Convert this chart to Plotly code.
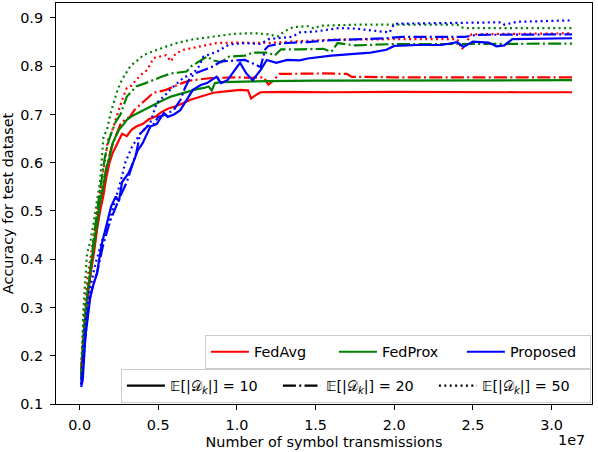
import plotly.graph_objects as go

# x values are in units of 1e7 symbol transmissions
fedavg_10_x = [0.01, 0.02, 0.03, 0.05, 0.07, 0.09, 0.11, 0.13, 0.15, 0.17, 0.19, 0.21, 0.24, 0.27, 0.3, 0.33,
               0.36, 0.4, 0.44, 0.48, 0.52, 0.56, 0.6, 0.65, 0.7, 0.75, 0.8, 0.85, 0.9, 0.96, 1.02, 1.07, 1.09,
               1.11, 1.15, 1.3, 1.6, 2.0, 2.4, 2.8, 3.13]
fedavg_10_y = [0.16, 0.2, 0.25, 0.32, 0.37, 0.41, 0.46, 0.5, 0.53, 0.57, 0.6, 0.62, 0.64, 0.66, 0.655, 0.668,
               0.675, 0.68, 0.69, 0.695, 0.705, 0.712, 0.716, 0.722, 0.73, 0.735, 0.74, 0.745, 0.747, 0.749, 0.751,
               0.75, 0.733, 0.738, 0.746, 0.747, 0.746, 0.747, 0.746, 0.746, 0.746]

fedavg_20_x = [0.01, 0.02, 0.04, 0.06, 0.08, 0.1, 0.12, 0.14, 0.16, 0.18, 0.2, 0.23, 0.26, 0.29, 0.32, 0.35,
               0.39, 0.43, 0.47, 0.51, 0.55, 0.6, 0.65, 0.7, 0.76, 0.82, 0.9, 1.0, 1.1, 1.17, 1.2, 1.23, 1.27,
               1.4, 1.55, 1.7, 1.73, 2.0, 2.5, 3.13]
fedavg_20_y = [0.17, 0.22, 0.29, 0.35, 0.4, 0.44, 0.49, 0.53, 0.57, 0.6, 0.63, 0.655, 0.68, 0.69, 0.695, 0.71,
               0.722, 0.732, 0.745, 0.748, 0.751, 0.758, 0.765, 0.77, 0.772, 0.775, 0.776, 0.777, 0.776, 0.777,
               0.762, 0.77, 0.784, 0.785, 0.785, 0.784, 0.778, 0.777, 0.777, 0.777]

fedavg_50_x = [0.01, 0.02, 0.03, 0.05, 0.07, 0.09, 0.11, 0.13, 0.15, 0.18, 0.2, 0.23, 0.27, 0.3, 0.33, 0.36,
               0.4, 0.43, 0.47, 0.51, 0.55, 0.58, 0.61, 0.66, 0.72, 0.77, 0.87, 1.0, 1.2, 1.4, 1.6, 2.0, 2.4,
               2.43, 2.46, 2.49, 2.7, 3.13]
fedavg_50_y = [0.18, 0.24, 0.29, 0.36, 0.405, 0.45, 0.49, 0.54, 0.578, 0.647, 0.66, 0.69, 0.73, 0.755, 0.76,
               0.772, 0.785, 0.792, 0.817, 0.82, 0.823, 0.81, 0.826, 0.834, 0.838, 0.841, 0.848, 0.849, 0.848,
               0.852, 0.855, 0.856, 0.856, 0.835, 0.85, 0.866, 0.867, 0.868]

fedprox_10_x = [0.01, 0.02, 0.03, 0.05, 0.07, 0.09, 0.11, 0.13, 0.15, 0.17, 0.19, 0.21, 0.23, 0.25, 0.28, 0.3,
                0.34, 0.38, 0.43, 0.47, 0.52, 0.58, 0.63, 0.68, 0.74, 0.79, 0.82, 0.84, 0.86, 0.9, 1.0, 1.2,
                1.5, 2.0, 2.5, 3.13]
fedprox_10_y = [0.15, 0.2, 0.26, 0.33, 0.38, 0.42, 0.47, 0.52, 0.55, 0.59, 0.61, 0.64, 0.655, 0.668, 0.68,
                0.689, 0.698, 0.705, 0.714, 0.72, 0.728, 0.737, 0.742, 0.747, 0.752, 0.755, 0.758, 0.75, 0.765,
                0.767, 0.768, 0.769, 0.77, 0.77, 0.77, 0.771]

fedprox_20_x = [0.01, 0.02, 0.04, 0.06, 0.08, 0.1, 0.12, 0.14, 0.16, 0.18, 0.2, 0.23, 0.26, 0.3, 0.36, 0.42,
                0.47, 0.52, 0.58, 0.64, 0.68, 0.71, 0.76, 0.81, 0.85, 0.9, 0.95, 1.05, 1.1, 1.2, 1.24, 1.28,
                1.4, 1.55, 1.6, 1.64, 1.75, 2.0, 2.5, 3.13]
fedprox_20_y = [0.15, 0.22, 0.3, 0.36, 0.42, 0.47, 0.52, 0.57, 0.61, 0.64, 0.66, 0.685, 0.7, 0.737, 0.758,
                0.765, 0.772, 0.778, 0.785, 0.787, 0.789, 0.8, 0.81, 0.82, 0.812, 0.808, 0.82, 0.822, 0.828,
                0.828, 0.822, 0.835, 0.835, 0.836, 0.83, 0.848, 0.843, 0.846, 0.846, 0.847]

fedprox_50_x = [0.01, 0.015, 0.025, 0.047, 0.07, 0.089, 0.11, 0.131, 0.152, 0.174, 0.195, 0.215, 0.24, 0.269,
                0.3, 0.322, 0.36, 0.406, 0.46, 0.512, 0.56, 0.618, 0.67, 0.724, 0.8, 0.85, 0.92, 0.976, 1.05,
                1.128, 1.2, 1.26, 1.3, 1.357, 1.45, 1.49, 1.53, 1.76, 2.0, 2.4, 2.44, 2.8, 3.13]
fedprox_50_y = [0.16, 0.22, 0.3, 0.41, 0.44, 0.475, 0.52, 0.564, 0.654, 0.668, 0.7, 0.724, 0.75, 0.772, 0.79,
                0.8, 0.81, 0.823, 0.83, 0.837, 0.842, 0.848, 0.852, 0.856, 0.859, 0.861, 0.864, 0.867, 0.868,
                0.868, 0.866, 0.862, 0.872, 0.881, 0.883, 0.878, 0.884, 0.886, 0.886, 0.886, 0.879, 0.879, 0.879]

proposed_10_x = [0.01, 0.02, 0.037, 0.05, 0.068, 0.09, 0.11, 0.14, 0.17, 0.2, 0.23, 0.25, 0.27, 0.31, 0.34,
                 0.37, 0.4, 0.43, 0.45, 0.49, 0.535, 0.56, 0.6, 0.64, 0.68, 0.72, 0.77, 0.81, 0.87, 0.9, 0.94,
                 0.98, 1.02, 1.06, 1.1, 1.15, 1.19, 1.25, 1.32, 1.4, 1.45, 1.6, 1.75, 1.85, 1.95, 2.0, 2.15,
                 2.3, 2.4, 2.44, 2.5, 2.6, 2.65, 2.7, 2.75, 2.9, 3.13]
proposed_10_y = [0.135, 0.15, 0.24, 0.28, 0.322, 0.35, 0.37, 0.43, 0.467, 0.509, 0.53, 0.52, 0.56, 0.578, 0.6,
                 0.626, 0.64, 0.66, 0.675, 0.68, 0.703, 0.695, 0.7, 0.709, 0.73, 0.751, 0.761, 0.765, 0.778,
                 0.765, 0.771, 0.789, 0.807, 0.785, 0.771, 0.792, 0.813, 0.807, 0.813, 0.812, 0.816, 0.822,
                 0.826, 0.828, 0.834, 0.842, 0.844, 0.844, 0.85, 0.84, 0.851, 0.849, 0.841, 0.843, 0.856,
                 0.857, 0.858]

proposed_20_x = [0.01, 0.02, 0.04, 0.06, 0.08, 0.11, 0.15, 0.195, 0.23, 0.258, 0.3, 0.333, 0.36, 0.385, 0.43,
                 0.47, 0.5, 0.55, 0.6, 0.64, 0.67, 0.7, 0.74, 0.79, 0.85, 0.9, 1.0, 1.05, 1.1, 1.15, 1.18, 1.2,
                 1.3, 1.45, 1.6, 1.8, 1.95, 2.05, 2.45, 2.52, 3.13]
proposed_20_y = [0.14, 0.18, 0.25, 0.31, 0.34, 0.37, 0.43, 0.48, 0.51, 0.53, 0.56, 0.592, 0.62, 0.66, 0.675,
                 0.68, 0.695, 0.7, 0.71, 0.73, 0.755, 0.775, 0.786, 0.792, 0.8, 0.81, 0.811, 0.813, 0.806,
                 0.798, 0.835, 0.842, 0.848, 0.85, 0.854, 0.856, 0.858, 0.861, 0.861, 0.865, 0.866]

proposed_50_x = [0.01, 0.02, 0.03, 0.06, 0.1, 0.15, 0.19, 0.227, 0.26, 0.29, 0.333, 0.385, 0.449, 0.49, 0.535,
                 0.597, 0.66, 0.724, 0.76, 0.787, 0.872, 0.95, 1.05, 1.15, 1.2, 1.35, 1.4, 1.5, 1.65, 1.75, 1.9,
                 1.97, 2.0, 2.2, 2.5, 2.68, 2.7, 2.78, 3.13]
proposed_50_y = [0.14, 0.2, 0.25, 0.33, 0.39, 0.446, 0.48, 0.523, 0.56, 0.6, 0.633, 0.66, 0.682, 0.724, 0.737,
                 0.758, 0.776, 0.786, 0.8, 0.82, 0.83, 0.845, 0.848, 0.846, 0.856, 0.861, 0.87, 0.872, 0.879,
                 0.878, 0.873, 0.87, 0.888, 0.889, 0.89, 0.891, 0.886, 0.892, 0.895]

algorithms = ['FedAvg', 'FedProx', 'Proposed']
colors = ['red', 'green', 'blue']
size_labels = ['𝔼[|𝒟<sub><i>k</i></sub>|] = 10', '𝔼[|𝒟<sub><i>k</i></sub>|] = 20', '𝔼[|𝒟<sub><i>k</i></sub>|] = 50']

# matplotlib-like dash patterns for 1.5pt lines
dashes = ['solid', '13px,3.3px,2px,3.3px', '2px,3.4px']

series = [
    (fedavg_10_x, fedavg_10_y, 0, 0), (fedavg_20_x, fedavg_20_y, 0, 1), (fedavg_50_x, fedavg_50_y, 0, 2),
    (fedprox_10_x, fedprox_10_y, 1, 0), (fedprox_20_x, fedprox_20_y, 1, 1), (fedprox_50_x, fedprox_50_y, 1, 2),
    (proposed_10_x, proposed_10_y, 2, 0), (proposed_20_x, proposed_20_y, 2, 1), (proposed_50_x, proposed_50_y, 2, 2),
]

fig = go.Figure()
for x, y, ci, di in series:
    fig.add_trace(go.Scatter(x=x, y=y, mode='lines', showlegend=False,
                             line=dict(color=colors[ci], width=2.2, dash=dashes[di])))

# legend entries
for name, c in zip(algorithms, colors):
    fig.add_trace(go.Scatter(x=[None], y=[None], mode='lines', name=name, legend='legend',
                             line=dict(color=c, width=2.2)))
for label, d in zip(size_labels, dashes):
    fig.add_trace(go.Scatter(x=[None], y=[None], mode='lines', name=label, legend='legend2',
                             line=dict(color='black', width=2.2, dash=d)))

FS = 14.4
axis_style = dict(showline=True, linecolor='black', linewidth=1.1, mirror=True, showgrid=False,
                  zeroline=False, ticks='outside', ticklen=5, tickwidth=1.1, tickcolor='black',
                  tickfont=dict(size=FS))
legend_style = dict(orientation='h', x=0.998, xanchor='right', yanchor='middle', itemwidth=38,
                    bordercolor='#cccccc', borderwidth=1, bgcolor='rgba(255,255,255,0.8)',
                    font=dict(size=FS))

fig.update_layout(
    width=598, height=452,
    margin=dict(l=56, r=6, t=3, b=48),
    plot_bgcolor='white', paper_bgcolor='white',
    font=dict(family='DejaVu Sans', size=FS, color='black'),
    xaxis=dict(range=[-0.150, 3.257], tickvals=[0, 0.5, 1.0, 1.5, 2.0, 2.5, 3.0], tickformat='.1f',
               ticklabelstandoff=3,
               title=dict(text='Number of symbol transmissions', standoff=4, font=dict(size=FS)),
               **axis_style),
    yaxis=dict(range=[0.1, 0.931], tickvals=[0.1, 0.2, 0.3, 0.4, 0.5, 0.6, 0.7, 0.8, 0.9], tickformat='.1f',
               ticklabelstandoff=4,
               title=dict(text='Accuracy for test dataset', standoff=6, font=dict(size=FS)),
               **axis_style),
    legend=dict(y=0.130, entrywidth=75, **legend_style),
    legend2=dict(y=0.0454, entrywidth=103, **legend_style),
    annotations=[dict(text='1e7', x=0.99, xref='paper', xanchor='right', y=-0.09, yref='paper',
                      yanchor='middle', showarrow=False, font=dict(size=FS))],
)

fig.write_html("out.html", config={'displayModeBar': False},
               post_script="document.body.style.margin='0';")
